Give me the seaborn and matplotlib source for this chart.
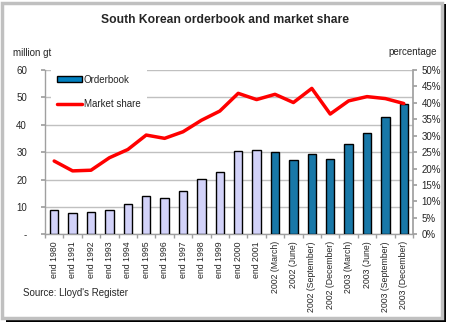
import matplotlib
matplotlib.use("Agg")
import matplotlib.pyplot as plt
import seaborn as sns
import pandas as pd
from matplotlib.patches import Patch, Rectangle
from matplotlib.lines import Line2D
from matplotlib.ticker import FuncFormatter, MultipleLocator

categories = ["end 1980", "end 1991", "end 1992", "end 1993", "end 1994", "end 1995",
              "end 1996", "end 1997", "end 1998", "end 1999", "end 2000", "end 2001",
              "2002 (March)", "2002 (June)", "2002 (September)", "2002 (December)",
              "2003 (March)", "2003 (June)", "2003 (September)", "2003 (December)"]
orderbook = [8.9, 7.7, 8.0, 8.9, 11.0, 13.9, 13.2, 15.9, 20.1, 22.8, 30.5, 30.8,
             30.0, 27.1, 29.3, 27.5, 33.0, 37.0, 42.9, 47.6]
market_share = [22.3, 19.3, 19.5, 23.3, 25.8, 30.2, 29.2, 31.2, 34.7, 37.5, 42.9, 41.0,
                42.6, 40.1, 44.4, 36.6, 40.6, 41.9, 41.3, 39.8]
n_annual = 12

sns.set_theme(style="white")
plt.rcParams['font.family'] = ['Liberation Sans', 'DejaVu Sans']

df = pd.DataFrame({"cat": categories, "orderbook": orderbook, "share": market_share})
palette = ["#CCCCFF"] * n_annual + ["#0080C0"] * (len(categories) - n_annual)

fig = plt.figure(figsize=(4.5, 3.26), dpi=100)
fig.patch.set_facecolor("white")

# chart frame: gray border with black shadow
fig.patches.append(Rectangle((6 / 450, 1 - 322 / 326), 440 / 450, 318 / 326,
                             transform=fig.transFigure, facecolor="black", edgecolor="none", zorder=-2))
fig.patches.append(Rectangle((2 / 450, 1 - 318 / 326), 440 / 450, 315 / 326,
                             transform=fig.transFigure, facecolor="white", edgecolor="#C0C0C0",
                             linewidth=2.5, zorder=-1))

ax = fig.add_axes([45 / 450, 1 - 234.3 / 326, 368 / 450, 164.3 / 326])
ax.set_zorder(2)
ax.set_facecolor("none")
sns.barplot(data=df, x="cat", y="orderbook", hue="cat", palette=palette, legend=False,
            width=0.45, edgecolor="black", linewidth=1.0, ax=ax, zorder=3)
ax.set_ylim(0, 60)
ax.set_xlim(-0.5, len(categories) - 0.5)
ax.yaxis.set_major_locator(MultipleLocator(10))
ax.yaxis.set_major_formatter(FuncFormatter(lambda v, p: "-" if v == 0 else f"{int(v)}"))
ax.grid(axis="y", color="#C0C0C0", linewidth=1.0, zorder=0)
ax.set_axisbelow(True)
for s in ["top", "right"]:
    ax.spines[s].set_visible(False)
for s in ["left", "bottom"]:
    ax.spines[s].set_color("#A0A0A0")
    ax.spines[s].set_linewidth(1.0)
ax.set_xlabel("")
ax.set_ylabel("")
ax.set_xticks(range(len(categories)))
ax.set_xticklabels(categories, rotation=90, fontsize=6.3, va="top", ha="center")
ax.set_xticks([i - 0.5 for i in range(len(categories) + 1)], minor=True)
ax.tick_params(axis="x", which="major", length=0, pad=5)
ax.tick_params(axis="x", which="minor", length=3, color="#A0A0A0", bottom=True)
ax.tick_params(axis="y", length=3, color="#A0A0A0", labelsize=7, pad=10, left=True)

ax2 = ax.twinx()
ax2.set_zorder(3)
ax2.set_facecolor("none")
sns.lineplot(x=list(range(len(categories))), y=df["share"], ax=ax2, color="#FF0000",
             linewidth=2.5, zorder=5)
ax2.set_ylim(0, 50)
ax2.yaxis.set_major_locator(MultipleLocator(5))
ax2.yaxis.set_major_formatter(FuncFormatter(lambda v, p: f"{int(v)}%"))
ax2.set_ylabel("")
for s in ["top", "left", "bottom"]:
    ax2.spines[s].set_visible(False)
ax2.spines["right"].set_color("#A0A0A0")
ax2.tick_params(axis="y", length=3, color="#A0A0A0", labelsize=7, pad=3, right=True)

fig.text(0.5, 1 - 20 / 326, "South Korean orderbook and market share", ha="center", va="center",
         fontsize=8.7, fontweight="bold")
fig.text(13 / 450, 1 - 53 / 326, "million gt", ha="left", va="center", fontsize=7)
fig.text(437 / 450, 1 - 52 / 326, "percentage", ha="right", va="center", fontsize=7)
fig.text(23 / 450, 1 - 293 / 326, "Source: Lloyd's Register", ha="left", va="center", fontsize=7)

handles = [Patch(facecolor="#0080C0", edgecolor="black", linewidth=1.0),
           Line2D([0], [0], color="#FF0000", linewidth=2.5)]
leg = fig.legend(handles, ["Orderbook", "Market share"], loc="upper left",
                 bbox_to_anchor=(46 / 450, 1 - 64 / 326), frameon=True, fontsize=7,
                 handlelength=2.6, handleheight=0.5, labelspacing=1.45, handletextpad=0.2,
                 borderpad=0.6, fancybox=False, framealpha=1.0)
leg.get_frame().set_facecolor("white")
leg.get_frame().set_edgecolor("none")
leg.set_zorder(10)

fig.savefig("out.png", dpi=100)
